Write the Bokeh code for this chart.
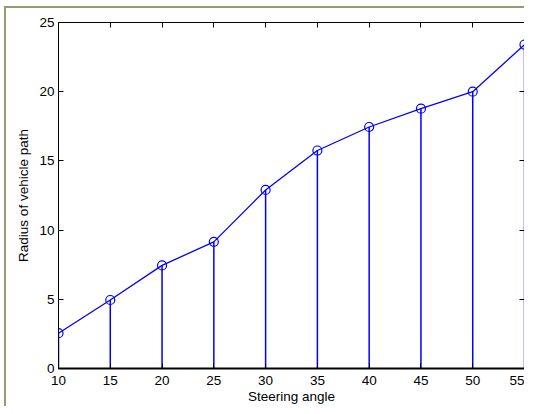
from bokeh.plotting import figure
from bokeh.models import Range1d, LinearAxis, FixedTicker
from bokeh.embed import file_html
from bokeh.resources import INLINE

steering_angle = [10, 15, 20, 25, 30, 35, 40, 45, 50, 55]
radius = [2.55, 4.95, 7.45, 9.15, 12.9, 15.75, 17.45, 18.77, 20.0, 23.4]
x_ticks = [10, 15, 20, 25, 30, 35, 40, 45, 50, 55]
y_ticks = [0, 5, 10, 15, 20, 25]

FONT = "Liberation Sans"
BLUE = "#0000ff"
KHAKI = "#9f9774"

p = figure(width=520, height=400, output_backend="svg", toolbar_location=None,
           x_range=Range1d(10, 55), y_range=Range1d(0, 25),
           min_border_left=52, min_border_right=2, min_border_top=14, min_border_bottom=40,
           margin=(6, 0, 0, 4),
           styles={"border-top": f"2px solid {KHAKI}", "border-left": f"2px solid {KHAKI}"})
p.background_fill_color = "white"
p.border_fill_color = "white"
p.outline_line_color = "black"
p.outline_line_width = 1
p.grid.visible = False

# stems
p.segment(x0=steering_angle, y0=[0] * len(radius), x1=steering_angle, y1=radius,
          line_color=BLUE, line_width=1.5)
# connecting line
p.line(steering_angle, radius, line_color=BLUE, line_width=1.3)
p.scatter(steering_angle, radius, marker="circle", size=9, fill_color=None,
          line_color=BLUE, line_width=1.2)

def style_axis(ax, labels=True):
    ax.axis_line_color = "black"
    ax.major_tick_line_color = "black"
    ax.major_tick_line_width = 1
    ax.major_tick_in = 5
    ax.major_tick_out = 0
    ax.minor_tick_line_color = None
    ax.major_label_text_font = FONT
    ax.major_label_text_font_size = "13.5px"
    ax.major_label_text_color = "black"
    ax.axis_label_text_font = FONT
    ax.axis_label_text_font_size = "13.5px"
    ax.axis_label_text_font_style = "normal"
    ax.axis_label_text_color = "black"
    if not labels:
        ax.major_label_text_font_size = "1px"
        ax.major_label_text_color = None
        ax.major_label_standoff = 0

p.xaxis.ticker = FixedTicker(ticks=x_ticks)
p.yaxis.ticker = FixedTicker(ticks=y_ticks)
p.xaxis.axis_label = "Steering angle"
p.yaxis.axis_label = "Radius of vehicle path"
style_axis(p.xaxis[0])
style_axis(p.yaxis[0])
p.xaxis.major_label_standoff = 7
p.yaxis.major_label_standoff = 4
p.xaxis.axis_label_standoff = 1
p.yaxis.axis_label_standoff = 5
p.xaxis.axis_line_width = 2

top = LinearAxis(ticker=FixedTicker(ticks=x_ticks))
right = LinearAxis(ticker=FixedTicker(ticks=y_ticks))
style_axis(top, labels=False)
style_axis(right, labels=False)
p.add_layout(top, "above")
p.add_layout(right, "right")

open("out.html", "w").write(file_html(p, INLINE))
